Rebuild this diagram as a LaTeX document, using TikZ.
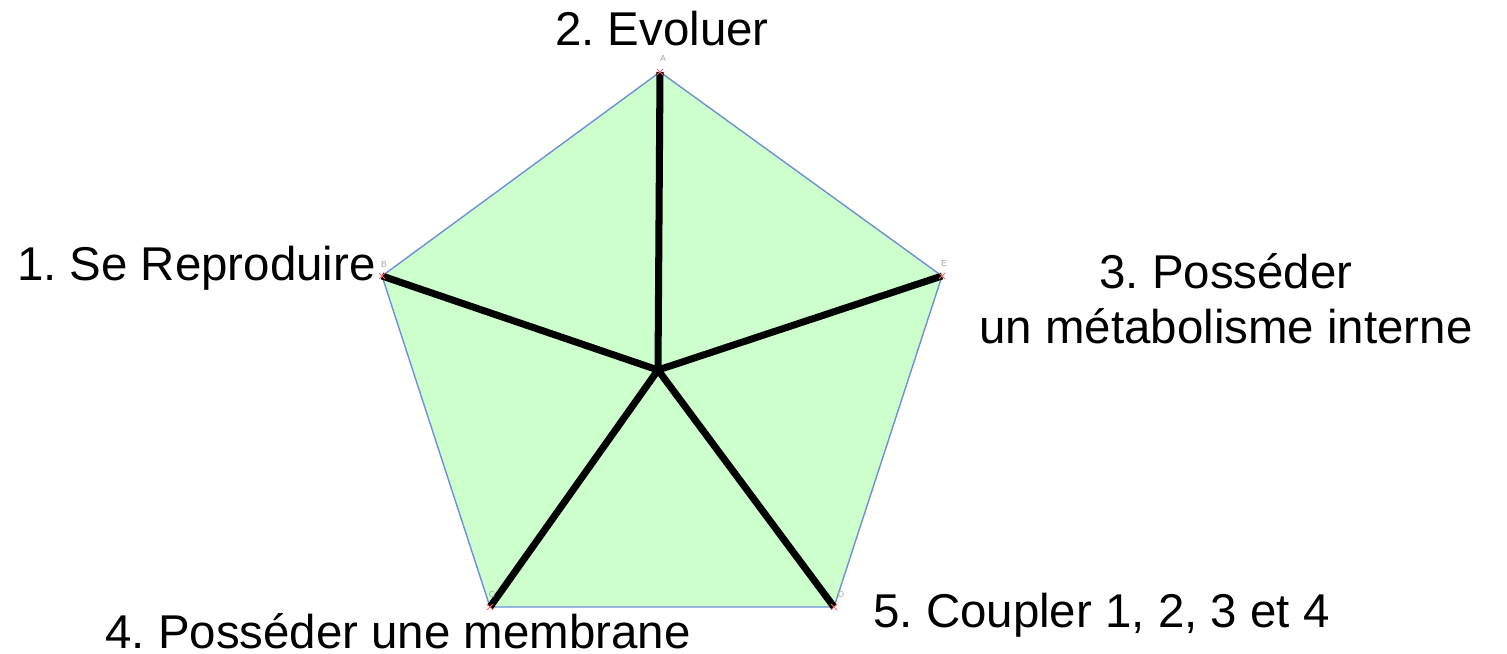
\documentclass[tikz,border=0pt]{standalone}
\usepackage{fontspec}
\setmainfont{Liberation Sans}
\usepackage{xcolor}
\usetikzlibrary{positioning}
\definecolor{pentfill}{HTML}{CCFFCC}
\definecolor{pentedge}{HTML}{6F8FD8}
\frenchspacing

\begin{document}
\begin{tikzpicture}[x=0.02cm, y=-0.02cm,
    caption/.style={font=\fontsize{27}{31.2}\selectfont, inner sep=0pt, align=center},
    vertex/.style={font=\fontsize{5}{6}\selectfont, text=gray!70, inner sep=0pt},
    spoke/.style={line width=4pt, black},
    cornermark/.style={draw=red!60, line width=0.5pt}]

\useasboundingbox (0,0) rectangle (1507,653);

% Pentagon corners and centre
\coordinate (A) at (660,72);
\coordinate (B) at (382,276);
\coordinate (E) at (942,276);
\coordinate (C) at (490,607);
\coordinate (D) at (834,607);
\coordinate (O) at (658,370);

\filldraw[fill=pentfill, draw=pentedge, line width=0.8pt] (A) -- (E) -- (D) -- (C) -- (B) -- cycle;

% Spokes
\draw[spoke] (O) -- (A);
\draw[spoke] (O) -- (B);
\draw[spoke] (O) -- (E);
\draw[spoke] (O) -- (C);
\draw[spoke] (O) -- (D);

% Small corner marks
\foreach \p in {A,B,C,D,E} {
  \draw[cornermark] ([shift={(-3,-3)}]\p) -- ([shift={(3,3)}]\p);
  \draw[cornermark] ([shift={(-3,3)}]\p) -- ([shift={(3,-3)}]\p);
}
\node[vertex] (lA) at (663,58) {A};
\node[vertex] (lB) at (384,264) {B};
\node[vertex] (lE) at (944,263) {E};
\node[vertex] (lC) at (492,594) {C};
\node[vertex] (lD) at (841,594) {D};

% Labels
\node[caption, anchor=base] (evoluer) at (662,45) {2. Evoluer};
\node[caption, anchor=base east] (reproduire) at (376,280) {1. Se Reproduire};
\node[caption, anchor=base] (metabolisme) at (1226,343) {3. Posséder\\un métabolisme interne};
\node[caption, anchor=base west, text depth=0pt] (membrane) at (105,648) {4. Posséder une membrane};
\node[caption, anchor=base west] (coupler) at (873,627) {5. Coupler 1, 2, 3 et 4};

\end{tikzpicture}
\end{document}
